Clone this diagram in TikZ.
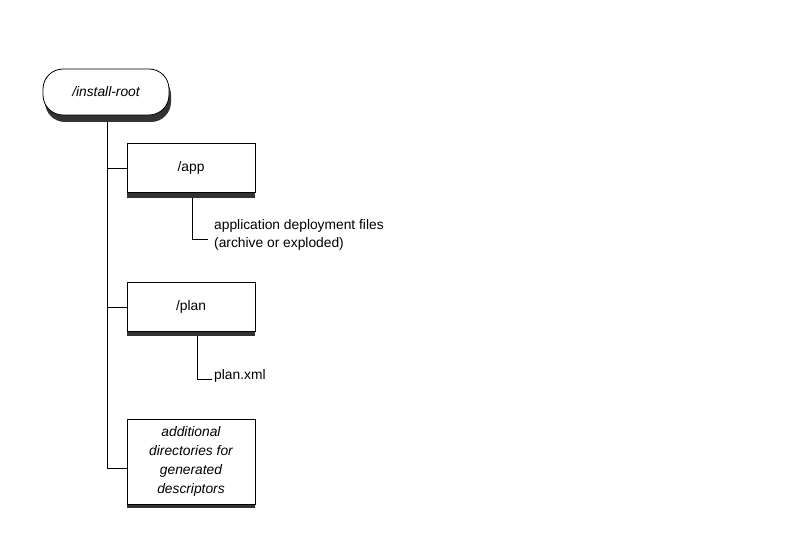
\documentclass[tikz,border=0pt]{standalone}
\usepackage{fontspec}
\setmainfont{Liberation Sans}
\begin{document}
\begin{tikzpicture}[x=1pt,y=-1pt,
  dirbox/.style={draw=black, line width=0.8pt, fill=white, minimum width=128pt, minimum height=49pt, inner sep=1pt, align=center, font=\fontsize{13.8}{18.5}\selectfont},
  rootbox/.style={draw=black, line width=0.8pt, fill=white, rounded corners=20pt, minimum width=126pt, minimum height=46pt, font=\fontsize{13.8}{14}\selectfont\itshape},
  shade/.style={fill=black!80, draw=none},
  link/.style={draw=black, line width=0.6pt},
  lbl/.style={anchor=west, inner sep=0pt, align=left, font=\fontsize{13.8}{18}\selectfont}]
\useasboundingbox (0,0) rectangle (800,548);
% root
\fill[black!80, rounded corners=20pt] (45,75) rectangle (171,122);
\node[rootbox] (root) at (106,92) {/install-root};
% app
\fill[shade] (127,190) rectangle (255,198);
\node[dirbox] (app) at (191,168) {/app};
% plan
\fill[shade] (127,328) rectangle (255,336);
\node[dirbox] (plan) at (191,307) {/plan};
% additional
\fill[shade] (127,500) rectangle (255,508);
\node[dirbox, minimum height=85pt, font=\fontsize{13.8}{19}\selectfont\itshape] (add) at (191,461.5) {additional\\directories for\\generated\\descriptors};
% trunk
\coordinate (tr0) at (107,122);
\coordinate (tr1) at (107,168);
\coordinate (tr2) at (107,307);
\coordinate (tr3) at (107,468);
\draw[link, line width=0.9pt] (tr0) -- (tr3);
\draw[link] (tr1) -- (app.west |- tr1);
\draw[link] (tr2) -- (plan.west |- tr2);
\draw[link] (tr3) -- (add.west |- tr3);
% app leaf
\node[lbl] (appfiles) at (214,235) {application deployment files\\(archive or exploded)};
\coordinate (a0) at (192,198);
\coordinate (a1) at (192,239);
\draw[link] (a0) -- (a1) -- (208,239);
% plan leaf
\node[lbl] (planxml) at (214,376) {plan.xml};
\coordinate (p0) at (197,336);
\coordinate (p1) at (197,379);
\draw[link] (p0) -- (p1) -- (212,379);
\end{tikzpicture}
\end{document}
